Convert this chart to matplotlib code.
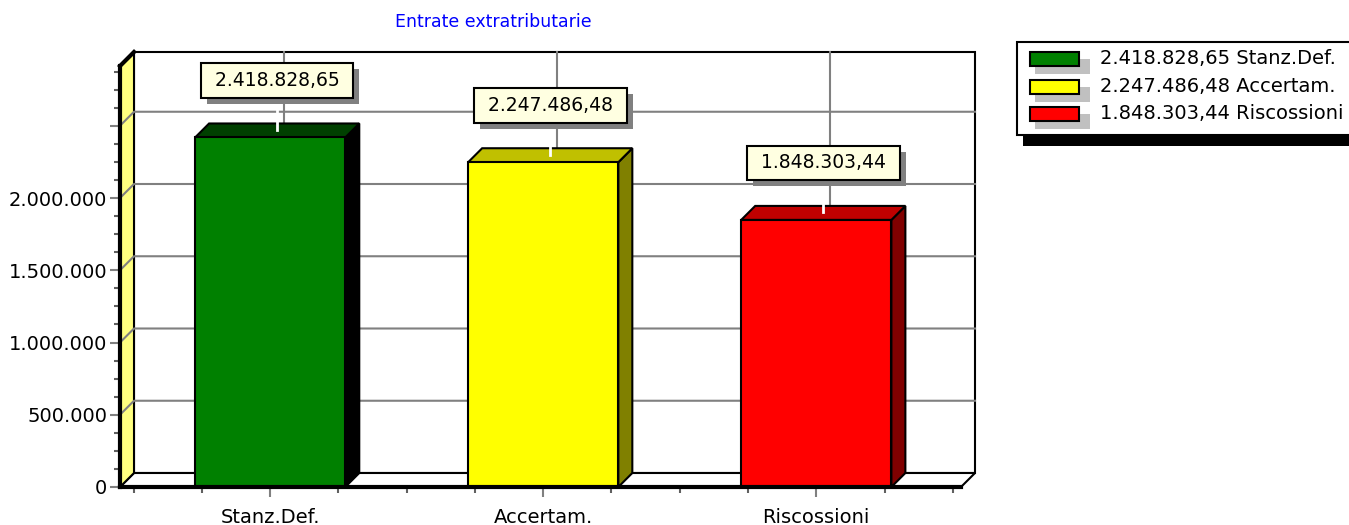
import matplotlib.pyplot as plt
from matplotlib import patheffects
from matplotlib.patches import Polygon, Rectangle
from matplotlib.ticker import FixedLocator, FuncFormatter

plt.rcParams['font.family'] = ['DejaVu Sans']

# dati
categorie = ['Stanz.Def.', 'Accertam.', 'Riscossioni']
valori = [2418828.65, 2247486.48, 1848303.44]
col_fronte = ['#008000', '#ffff00', '#ff0000']
col_sopra = ['#004000', '#c0c000', '#c00000']
col_lato = ['#000000', '#808000', '#800000']
titolo = 'Entrate extratributarie'

W, H = 1349, 525
YMAX = 2913500
XMIN, XMAX = -0.55, 2.53
DX = 14 / 273          # profondita' 3D in unita' categoria
DY = 14 / 144.5e-6     # profondita' 3D in unita' valore


def it_num(v, dec=2):
    s = f'{v:,.{dec}f}'
    return s.replace(',', '#').replace('.', ',').replace('#', '.')


def px(x, y):
    # pixel immagine (origine in alto a sinistra) -> frazione figura
    return x / W, 1 - y / H


fig = plt.figure(figsize=(W / 100, H / 100), dpi=100)
ax = fig.add_axes([120 / W, 38 / H, 841 / W, 421 / H])
ax.set_xlim(XMIN, XMAX)
ax.set_ylim(0, YMAX)
ax.patch.set_visible(False)

# pareti: fondo, pavimento, lato sinistro
ax.add_patch(Polygon([(XMIN + DX, DY), (XMAX + DX, DY), (XMAX + DX, YMAX + DY),
                      (XMIN + DX, YMAX + DY)], closed=True, fc='white', ec='black',
                     lw=1.5, zorder=0, clip_on=False))
ax.add_patch(Polygon([(XMIN, 0), (XMAX, 0), (XMAX + DX, DY), (XMIN + DX, DY)],
                     closed=True, fc='white', ec='black', lw=1.5, zorder=0.5, clip_on=False))
ax.add_patch(Polygon([(XMIN, 0), (XMIN + DX, DY), (XMIN + DX, YMAX + DY), (XMIN, YMAX)],
                     closed=True, fc='#ffff80', ec='black', lw=1.5, zorder=0.5, clip_on=False))
ax.plot([XMIN, XMIN + DX], [YMAX, YMAX + DY], color='black', lw=3, zorder=6,
        clip_on=False, solid_capstyle='projecting')

# griglia
for v in range(500000, 3000000, 500000):
    ax.plot([XMIN, XMIN + DX, XMAX + DX], [v, v + DY, v + DY], color='#808080',
            lw=1.5, zorder=1, clip_on=False)
for i in range(len(categorie)):
    ax.plot([i + DX, i + DX], [DY, YMAX + DY], color='#808080', lw=1.5, zorder=1,
            clip_on=False)

# barre 3D
bw = 0.55
ombra = [patheffects.SimplePatchShadow(offset=(4.3, -4.3), shadow_rgbFace='#808080',
                                       alpha=1.0),
         patheffects.Normal()]
for i, (v, cf, ct, cs) in enumerate(zip(valori, col_fronte, col_sopra, col_lato)):
    x0, x1 = i - bw / 2, i + bw / 2
    ax.add_patch(Polygon([(x1, 0), (x1 + DX, DY), (x1 + DX, v + DY), (x1, v)],
                         closed=True, fc=cs, ec='black', lw=1.5, zorder=3, clip_on=False))
    ax.add_patch(Polygon([(x0, v), (x0 + DX, v + DY), (x1 + DX, v + DY), (x1, v)],
                         closed=True, fc=ct, ec='black', lw=1.5, zorder=3, clip_on=False))
    ax.add_patch(Rectangle((x0, 0), bw, v, fc=cf, ec='black', lw=1.5, zorder=3.2,
                           clip_on=False))
    # linea guida dell'etichetta
    ax.plot([i + DX / 2, i + DX / 2], [v + 0.55 * DY, v + 2.1 * DY], color='white',
            lw=2, zorder=3.5, clip_on=False)
    ann = ax.annotate(' ' + it_num(v) + ' ', xy=(i + DX / 2, v + DY), xytext=(0, 43),
                      textcoords='offset pixels', ha='center', va='center',
                      fontsize=13.5, color='black', zorder=5,
                      bbox=dict(boxstyle='square,pad=0.42', fc='#ffffe1', ec='black',
                                lw=1.5))
    ann.get_bbox_patch().set_path_effects(ombra)

# assi
for s in ['top', 'right']:
    ax.spines[s].set_visible(False)
for s in ['left', 'bottom']:
    ax.spines[s].set_linewidth(3)
    ax.spines[s].set_zorder(6)

ax.yaxis.set_major_locator(FixedLocator(range(0, 3000000, 500000)))
ax.yaxis.set_minor_locator(FixedLocator(range(0, 2913500, 125000)))
ax.yaxis.set_major_formatter(FuncFormatter(
    lambda v, p: it_num(v, 0) if v <= 2000000 else ''))
ax.set_xticks(range(len(categorie)))
ax.set_xticklabels(categorie)
ax.xaxis.set_minor_locator(FixedLocator([-0.5, -0.25, 0.25, 0.5, 0.75, 1.25, 1.5,
                                         1.75, 2.25, 2.5]))
ax.tick_params(axis='both', which='major', colors='#808080', labelcolor='black',
               labelsize=14, width=1.5)
ax.tick_params(axis='y', which='major', length=7, pad=2)
ax.tick_params(axis='x', which='major', length=7, pad=8)
ax.tick_params(axis='both', which='minor', colors='#606060', length=4, width=1.5)

# titolo
fig.text(*px(493, 22), titolo, color='#0000ff', fontsize=12.5, ha='center', va='center')

# legenda
fig.add_artist(Rectangle(px(1023, 146), 400 / W, 20 / H, transform=fig.transFigure,
                         fc='black', ec='none'))
fig.add_artist(Rectangle(px(1017, 135), 400 / W, 93 / H, transform=fig.transFigure,
                         fc='white', ec='black', lw=1.5))
for k, (c, v, cf) in enumerate(zip(categorie, valori, col_fronte)):
    yc = 59 + k * 27.5
    fig.add_artist(Rectangle(px(1035, yc + 15), 55 / W, 15 / H, transform=fig.transFigure,
                             fc='#c0c0c0', ec='none'))
    fig.add_artist(Rectangle(px(1030, yc + 7), 49 / W, 14 / H, transform=fig.transFigure,
                             fc=cf, ec='black', lw=1.5))
    fig.text(*px(1100, yc), f'{it_num(v)} {c}', fontsize=14, ha='left', va='center')

fig.savefig('out.png', dpi=100)
